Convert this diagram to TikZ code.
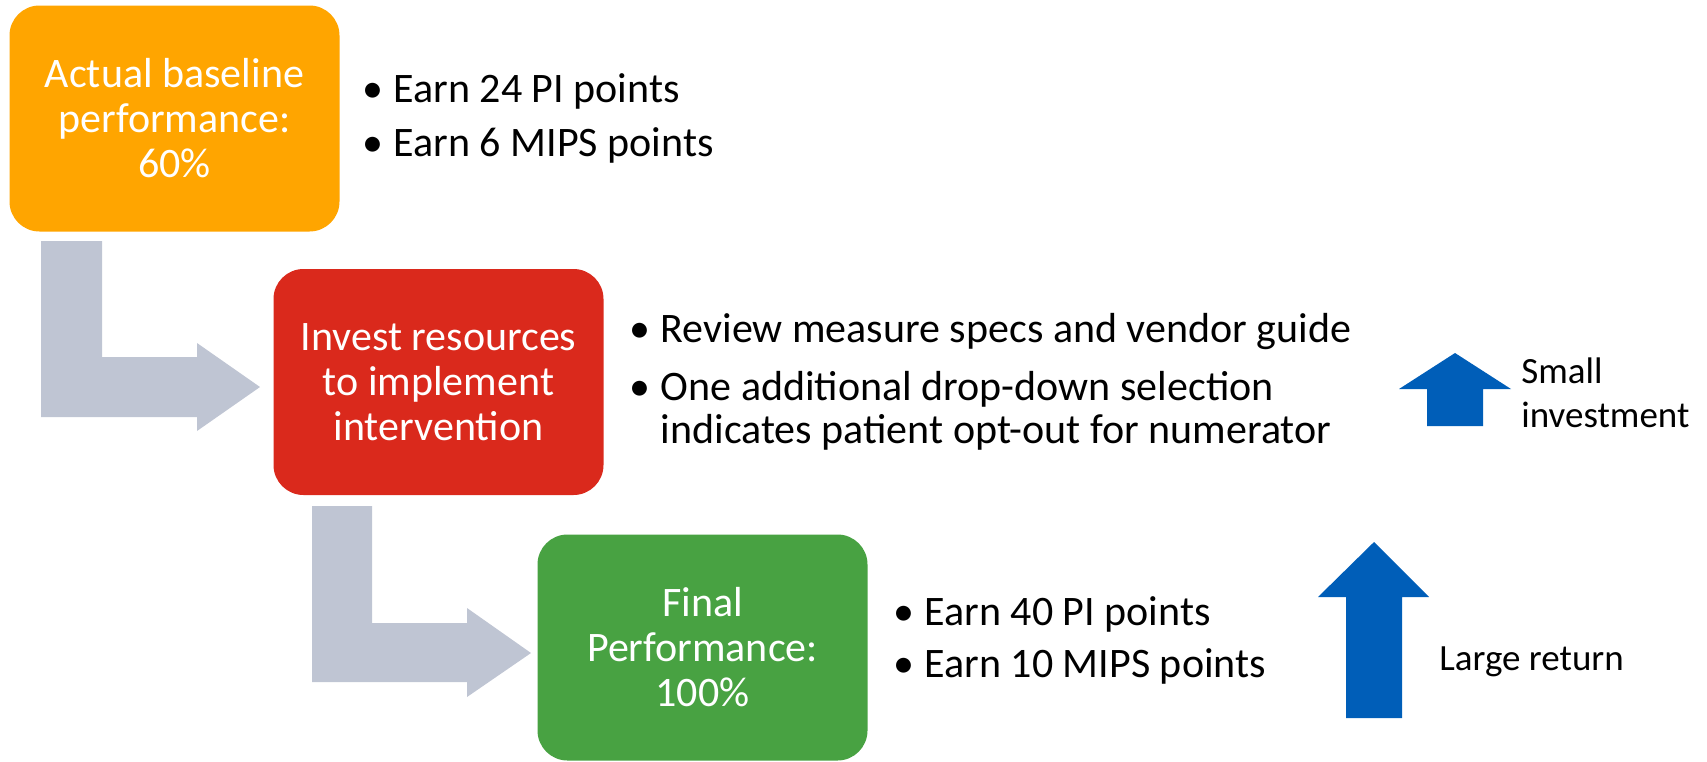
\documentclass[tikz,border=0pt]{standalone}
\usepackage{fontspec}
\setmainfont{Carlito}
\usetikzlibrary{positioning}

\definecolor{basecol}{RGB}{255,165,0}
\definecolor{investcol}{RGB}{218,41,28}
\definecolor{finalcol}{RGB}{72,162,66}
\definecolor{flowgrey}{RGB}{191,197,211}
\definecolor{gainblue}{RGB}{0,94,184}

\newcommand{\bitem}[1]{\makebox[15.5pt][l]{\textbullet}#1}
\newcommand{\bcont}[1]{\hspace*{15.5pt}#1}

\begin{document}
\begin{tikzpicture}[x=0.5pt,y=-0.5pt,
    stage/.style={rounded corners=15pt,minimum width=165pt,minimum height=113pt,
      inner sep=0pt,text=white,align=center,font=\fontsize{21}{22.5}\selectfont},
    points/.style={anchor=west,align=left,inner sep=0pt,font=\fontsize{21}{21.5}\selectfont},
    gainlbl/.style={anchor=west,align=left,inner sep=0pt,font=\fontsize{18.5}{22}\selectfont},
    flow/.style={fill=flowgrey},
    gain/.style={fill=gainblue}]
    \useasboundingbox (0,0) rectangle (1707,761);

    % grey flow arrows
    \fill[flow] (41,241) -- (102,241) -- (102,357) -- (197,357) -- (197,343)
        -- (260,387) -- (197,431) -- (197,417) -- (41,417) -- cycle;
    \fill[flow] (312,506) -- (372,506) -- (372,623) -- (467,623) -- (467,608)
        -- (531,653) -- (467,697) -- (467,682) -- (312,682) -- cycle;

    % stages
    \node[stage,fill=basecol]   (base)   at (174.5,118.5) {Actual baseline\\performance:\\60\%};
    \node[stage,fill=investcol] (invest) at (438.5,382)   {Invest resources\\to implement\\intervention};
    \node[stage,fill=finalcol]  (final)  at (702.5,647.5) {Final\\Performance:\\100\%};

    % bullet lists
    \node[points,right=11.25pt of base] (basepts)
        {\bitem{Earn 24 PI points}\\[5.5pt]\bitem{Earn 6 MIPS points}};
    \node[points,right=12.75pt of invest] (investpts)
        {\bitem{Review measure specs and vendor guide}\\[7.5pt]
         \bitem{One additional drop-down selection}\\
         \bcont{indicates patient opt-out for numerator}};
    \node[points,right=12.75pt of final,yshift=3.75pt] (finalpts)
        {\bitem{Earn 40 PI points}\\[4.5pt]\bitem{Earn 10 MIPS points}};

    % blue arrows
    \fill[gain] (1399,389) -- (1455,353) -- (1511,389) -- (1483,389)
        -- (1483,426) -- (1427,426) -- (1427,389) -- cycle;
    \fill[gain] (1318,597) -- (1374,542) -- (1429,597) -- (1402,597)
        -- (1402,718) -- (1346,718) -- (1346,597) -- cycle;
    \node[gainlbl] (smalllbl) at (1521,393) {Small\\investment};
    \node[gainlbl] (largelbl) at (1439,662) {Large return};
\end{tikzpicture}
\end{document}
